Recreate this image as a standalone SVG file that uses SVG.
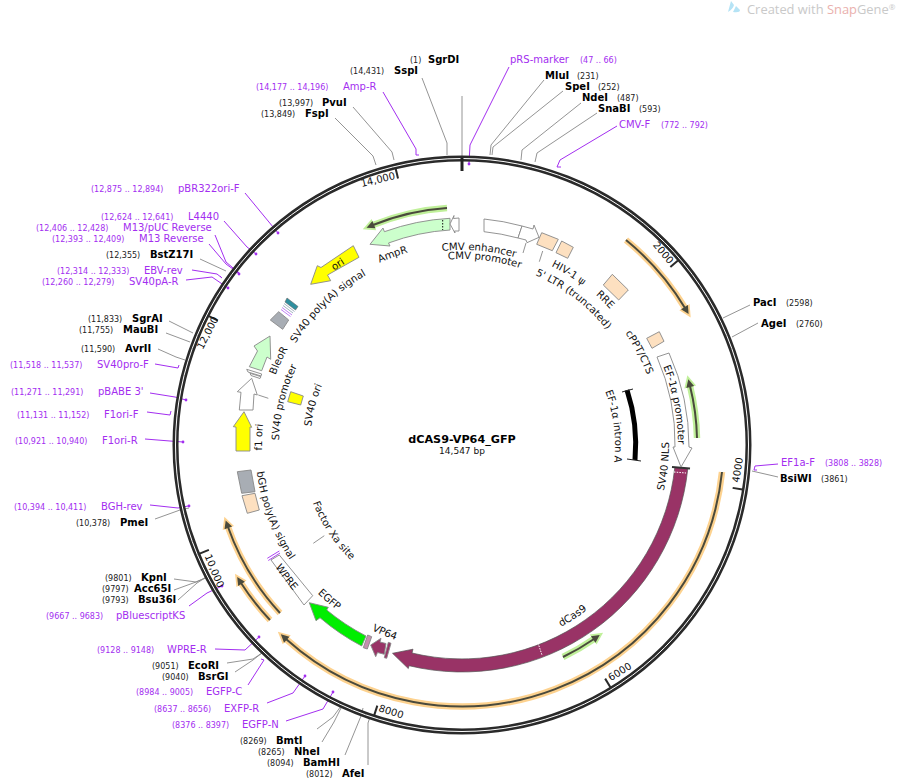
<svg xmlns="http://www.w3.org/2000/svg" width="898" height="780" viewBox="0 0 898 780">
<style>
text{font-family:"DejaVu Sans",sans-serif;fill:#111}
.l{font-size:10px}
.n{font-size:8px;fill:#222}
.b{font-size:10px;font-weight:bold;fill:#000}
.pn{font-size:10px;fill:#a32ef0}
.pp{font-size:8px;fill:#a32ef0}
.t{font-size:10px;text-anchor:middle}
.f{font-size:10.2px}
.g{fill:none;stroke:#888;stroke-width:.9}
.p{fill:none;stroke:#a32ef0;stroke-width:1}
.d{fill:#a32ef0}
.s{stroke:#888;stroke-width:.9;stroke-linejoin:miter}
.w{fill:#fff}
.pe{fill:#fde0c0}
.gr{fill:#a8adb4}
.y{fill:#ff0}
.lg{fill:#ccffcc}
.mg{fill:#993366}
.tick{stroke:#2a2a2a;stroke-width:2}
.og{fill:none;stroke:#fdd28f;stroke-width:6.5;marker-end:url(#mo)}
.gg{fill:none;stroke:#c0f09a;stroke-width:6.5;marker-end:url(#mg)}
.core{fill:none;stroke:#4a4a3c;stroke-width:2;marker-end:url(#mc)}
</style>
<defs>
<marker id="mo" markerUnits="userSpaceOnUse" markerWidth="18" markerHeight="18" refX="4" refY="9" orient="auto"><path d="M3 3L15 9L3 15Z" fill="#fdd28f"/></marker>
<marker id="mg" markerUnits="userSpaceOnUse" markerWidth="18" markerHeight="18" refX="4" refY="9" orient="auto"><path d="M3 3L15 9L3 15Z" fill="#c0f09a"/></marker>
<marker id="mc" markerUnits="userSpaceOnUse" markerWidth="12" markerHeight="12" refX="2" refY="6" orient="auto"><path d="M1 2L9 6L1 10Z" fill="#4a4a3c"/></marker>
<path id="c200" d="M262 445A200 200 0 0 1 662 445"/>
<path id="c195" d="M267 445A195 195 0 0 1 657 445"/>
<path id="c186" d="M276 445A186 186 0 0 1 648 445"/>
<path id="c185" d="M277 445A185 185 0 0 1 647 445"/>
<path id="c183" d="M279 445A183 183 0 0 1 645 445"/>
<path id="c201" d="M261 445A201 201 0 0 1 663 445"/>
<path id="c198" d="M264 445A198 198 0 0 1 660 445"/>
<path id="c216" d="M246 445A216 216 0 0 1 678 445"/>
<path id="c153" d="M309 445A153 153 0 0 1 615 445"/>
<path id="c152" d="M310 445A152 152 0 0 1 614 445"/>
<path id="c199" d="M263 445A199 199 0 0 1 661 445"/>
<path id="b206" d="M256 445A206 206 0 0 0 668 445"/>
<path id="b160" d="M302 445A160 160 0 0 0 622 445"/>
<path id="b223" d="M239 445A223 223 0 0 0 685 445"/>
<path id="b207" d="M255 445A207 207 0 0 0 669 445"/>
</defs>

<g id="watermark">
<path d="M731 1L728 12Q733 9 734 5ZM736 6L733 12Q740 13 740 10Z" fill="#b5e3f5"/>
<text x="747" y="14" style="font-family:'Open Sans',sans-serif;font-size:12.9px;fill:#c9c9c9">Created with <tspan style="fill:#eab0ad">Snap</tspan>Gene<tspan style="font-size:8px" dy="-4">®</tspan></text>
</g>

<g id="connectors">
<polyline class="g" points="462,96 462,157"/>
<polyline class="g" points="422,78 447,143 447,155"/>
<polyline class="g" points="353,107 392,152 394,160"/>
<polyline class="g" points="335,118 373,156 376,165"/>
<polyline class="g" points="544,80 491,145 490,155"/>
<polyline class="g" points="563,91 493,147 492,155"/>
<polyline class="g" points="581,103 522,150 521,160"/>
<polyline class="g" points="597,113 537,153 535,162"/>
<polyline class="g" points="750,305 723,318"/>
<polyline class="g" points="758,323 732,337"/>
<polyline class="g" points="778,477 752,471"/>
<polyline class="g" points="200,259 226,271"/>
<polyline class="g" points="169,321 193,333"/>
<polyline class="g" points="166,333 190,342"/>
<polyline class="g" points="158,349 176,357 185,360"/>
<polyline class="g" points="155,519 180,510 189,508"/>
<polyline class="g" points="174,579 196,582 205,578"/>
<polyline class="g" points="174,590 196,582 205,578"/>
<polyline class="g" points="178,600 197,583 205,578"/>
<polyline class="g" points="227,663 253,659 262,653"/>
<polyline class="g" points="235,672 253,660 262,653"/>
<polyline class="g" points="317,729 333,717 341,706"/>
<polyline class="g" points="322,742 334,722 341,708"/>
<polyline class="g" points="345,755 361,716 363,708"/>
<polyline class="g" points="368,765 368,723 371,714"/>
<polyline class="p" points="509,67 470,145 469,163"/><circle class="d" cx="469" cy="164" r="1.4"/>
<polyline class="p" points="383,92 416,149 416,155 419,155"/>
<polyline class="p" points="617,126 560,160 557,167 561,167"/>
<polyline class="p" points="778,464 755,466 754,470 757,470"/>
<polyline class="p" points="245,193 278,233"/><circle class="d" cx="278" cy="233" r="1.4"/>
<polyline class="p" points="224,221 247,247 256,254"/><circle class="d" cx="256" cy="254" r="1.4"/>
<polyline class="p" points="215,235 226,262 239,273"/><circle class="d" cx="239" cy="274" r="1.4"/>
<polyline class="p" points="209,244 226,264 237,272"/><circle class="d" cx="237" cy="272" r="1.4"/>
<polyline class="p" points="192,270 217,274 222,278 220,276"/>
<polyline class="p" points="186,280 212,277 228,288"/><circle class="d" cx="228" cy="288" r="1.4"/>
<polyline class="p" points="155,364 178,368 179,365"/>
<polyline class="p" points="150,393 175,397 186,400"/><circle class="d" cx="186" cy="400" r="1.4"/>
<polyline class="p" points="147,412 170,415 171,411"/>
<polyline class="p" points="145,439 170,441 183,442"/><circle class="d" cx="183" cy="442" r="1.4"/>
<polyline class="p" points="150,505 178,508 188,506"/><circle class="d" cx="189" cy="506" r="1.4"/>
<polyline class="p" points="189,606 207,593 222,586"/><circle class="d" cx="222" cy="586" r="1.4"/>
<polyline class="p" points="215,649 245,650 259,637"/><circle class="d" cx="259" cy="637" r="1.4"/>
<polyline class="p" points="248,685 264,660 261,659"/>
<polyline class="p" points="267,703 293,693 305,676"/><circle class="d" cx="305" cy="676" r="1.4"/>
<polyline class="p" points="286,721 323,709 333,692"/><circle class="d" cx="333" cy="692" r="1.4"/>
<polyline class="g" points="526,243 523,253"/>
<polyline class="g" points="542.7,251 539.3,261.7"/>
<polyline class="g" points="258.3,395 268.3,398.3"/>
<polyline class="g" points="313.3,543.3 324.3,535.7"/>
</g>

<g id="backbone">
<circle cx="462" cy="445" r="286.5" fill="none" stroke="#2a2a2a" stroke-width="6"/>
<circle cx="462" cy="445" r="286.5" fill="none" stroke="#fff" stroke-width="1"/>
<line x1="462" y1="158" x2="462" y2="171" stroke="#222" stroke-width="3"/>
<line class="tick" x1="462" y1="161" x2="462" y2="171" transform="rotate(49.5 462 445)"/>
<line class="tick" x1="462" y1="161" x2="462" y2="171" transform="rotate(99 462 445)"/>
<line class="tick" x1="462" y1="161" x2="462" y2="171" transform="rotate(148.5 462 445)"/>
<line class="tick" x1="462" y1="161" x2="462" y2="171" transform="rotate(198 462 445)"/>
<line class="tick" x1="462" y1="161" x2="462" y2="171" transform="rotate(247.5 462 445)"/>
<line class="tick" x1="462" y1="161" x2="462" y2="171" transform="rotate(297 462 445)"/>
<line class="tick" x1="462" y1="161" x2="462" y2="171" transform="rotate(346.5 462 445)"/>
<text class="t" transform="translate(663 253) rotate(49.5)" y="3">2000</text>
<text class="t" transform="translate(738 470) rotate(-81)" y="3">4000</text>
<text class="t" transform="translate(620 672) rotate(-31.5)" y="3">6000</text>
<text class="t" transform="translate(391 712) rotate(18)" y="3">8000</text>
<text class="t" transform="translate(214 571) rotate(67.5)" y="3">10,000</text>
<text class="t" transform="translate(208 333) rotate(-63)" y="3">12,000</text>
<text class="t" transform="translate(378 180) rotate(-13.5)" y="3">14,000</text>
</g>

<g id="title">
<text x="462" y="443" text-anchor="middle" style="font-size:11.2px;font-weight:bold;fill:#000">dCAS9-VP64_GFP</text>
<text x="462" y="454" text-anchor="middle" style="font-size:9px">14,547 bp</text>
</g>

<g id="primers">
<path class="og" d="M626 240A263 263 0 0 1 685 308"/><path class="core" d="M626 240A263 263 0 0 1 685 308"/>
<path class="og" d="M722 472A262 262 0 0 1 286 639"/><path class="core" d="M722 472A262 262 0 0 1 286 639"/>
<path class="og" d="M270 620A261 261 0 0 1 241 583"/><path class="core" d="M270 620A261 261 0 0 1 241 583"/>
<path class="og" d="M280 613A248 248 0 0 1 228 527"/><path class="core" d="M280 613A248 248 0 0 1 228 527"/>
<path class="gg" d="M447 208A238 238 0 0 0 373 225"/><path class="core" d="M447 208A238 238 0 0 0 373 225"/>
<path class="gg" d="M697 438A235.5 235.5 0 0 0 690 386"/><path class="core" d="M697 438A235.5 235.5 0 0 0 690 386"/>
<path class="gg" d="M563 657A235 235 0 0 0 594 639"/><path class="core" d="M563 657A235 235 0 0 0 594 639"/>
</g>

<g id="AmpR"><path class="s lg" d="M450 218.3A227 227 0 0 0 384.4 231.7L383 228L370 244.3L390 246L388.5 243A215 215 0 0 1 450 230Z"/>
<line x1="442.7" y1="220" x2="442.7" y2="230" stroke="#111" stroke-dasharray="1.5 1.5"/>
<text class="f" transform="rotate(-20 462 445)"><textPath href="#c200" startOffset="50%" text-anchor="middle">AmpR</textPath></text></g>
<g id="small-white"><path class="s w" d="M450 224L454 215.5L453.5 218.5L459 218V231L454.5 231L455 233Z"/></g>
<g id="CMV-enhancer"><path class="s w" d="M484 219A227 227 0 0 1 522 226L518 238A215 215 0 0 0 484 231.7Z"/>
<text class="f" transform="rotate(5 462 445)"><textPath href="#c195" startOffset="50%" text-anchor="middle">CMV enhancer</textPath></text></g>
<g id="CMV-promoter"><path class="s w" d="M522 226L533 229L534 225L539 237.3L527 242.7L526 240L518 238Z"/>
<text class="f" transform="rotate(7 462 445)"><textPath href="#c186" startOffset="50%" text-anchor="middle">CMV promoter</textPath></text></g>
<g id="LTR"><path class="s pe" d="M541.7 232.7L558.3 239.3L552.3 250.7L536.7 244.3Z"/>
<text class="f" transform="rotate(37.4 462 445)"><textPath href="#c185" startOffset="50%" text-anchor="middle">5' LTR (truncated)</textPath></text></g>
<g id="HIV-psi"><path class="s pe" d="M561.7 241L573.3 247.3L567.7 258.3L556 252.7Z"/>
<text class="f" transform="rotate(31.8 462 445)"><textPath href="#c200" startOffset="50%" text-anchor="middle">HIV-1 ψ</textPath></text></g>
<g id="RRE"><path class="s pe" d="M612.3 274.3L628.3 290L618.7 300L603.3 285Z"/>
<text class="f" transform="rotate(44.6 462 445)"><textPath href="#c201" startOffset="50%" text-anchor="middle">RRE</textPath></text></g>
<g id="cPPT"><path class="s pe" d="M659.3 331.7L664 341.3L652 348.3L646.7 338.3Z"/>
<text class="f" transform="rotate(62.4 462 445)"><textPath href="#c198" startOffset="50%" text-anchor="middle">cPPT/CTS</textPath></text></g>
<g id="dCas9"><path class="mg" stroke="#555" stroke-width=".7" d="M687.8 468.7A227 227 0 0 1 409 665.7L408.3 668.6L392.5 653.3L413 649.2L412 653A214 214 0 0 0 674.8 467.4Z"/>
<line x1="672" y1="467" x2="690" y2="468.6" stroke="#333" stroke-width="2"/>
<line x1="674" y1="472" x2="686" y2="473" stroke="#fff" stroke-dasharray="1.5 1.2"/>
<line x1="538" y1="643" x2="542" y2="655" stroke="#fff" stroke-dasharray="1.5 1.2"/>
<text class="f" transform="rotate(-32.9 462 445)"><textPath href="#b207" startOffset="50%" text-anchor="middle">dCas9</textPath></text></g>
<g id="SV40-NLS"><text class="f" transform="rotate(-84 462 445)"><textPath href="#b207" startOffset="50%" text-anchor="middle">SV40 NLS</textPath></text></g>
<g id="EF1a-promoter"><path class="s w" d="M657 357A214 214 0 0 1 675 447L673 447L681 467L692 448L689 447A227 227 0 0 0 669 353Z"/>
<text class="f" transform="rotate(79.3 462 445)"><textPath href="#c216" startOffset="50%" text-anchor="middle">EF-1α promoter</textPath></text></g>
<g id="EF1a-intron"><path d="M627 390A174 174 0 0 1 635 460" fill="none" stroke="#000" stroke-width="5"/>
<path d="M622 392L633 389M627 459L641 461" stroke="#222" stroke-width="1"/>
<text class="f" transform="rotate(83 462 445)"><textPath href="#c153" startOffset="50%" text-anchor="middle">EF-1α intron A</textPath></text></g>
<g id="ori"><path class="s y" d="M353.3 245.7L359 257.3L327.5 275L330.7 280.7L310.7 284.3L317.3 265.7L321 267.5Z"/>
<text class="f" transform="rotate(-34.5 462 445)"><textPath href="#c216" startOffset="50%" text-anchor="middle">ori</textPath></text></g>
<g id="SV40-polyA"><path d="M287 298L298 306.5L295.5 310L285 302Z" fill="#2f8f9f" stroke="#666" stroke-width=".6"/>
<path d="M284 303.5L294.5 311.5M283 305.5L293 313" stroke="#8aa0b0" stroke-width=".8" fill="none"/>
<path d="M282 307.5L292 315M281 309.5L290.5 316.5" stroke="#b060f0" stroke-width=".8" fill="none"/>
<path class="s gr" d="M278.7 311.7L288.7 320L282.7 329.3L270.3 320Z"/>
<text class="f" transform="rotate(-44 462 445)"><textPath href="#c195" startOffset="50%" text-anchor="middle">SV40 poly(A) signal</textPath></text></g>
<g id="BleoR"><path class="s lg" d="M249.3 366.7L257.5 351L254 346L270 336L270.7 359.3L267 357L261.7 370.7Z"/>
<path class="s w" d="M246.7 369.3L261.7 374L261 376L248 372Z"/>
<path class="s w" d="M250 373.3L261 376.7L260 378.5L251 375.5Z"/>
<text class="f" transform="rotate(-65.3 462 445)"><textPath href="#c199" startOffset="50%" text-anchor="middle">BleoR</textPath></text></g>
<g id="SV40-promoter"><path class="s w" d="M239.3 410L241 392.3L237.3 391.7L251.7 378.3L257.3 395L254 394L253 410Z"/>
<text class="f" transform="rotate(-76.5 462 445)"><textPath href="#c183" startOffset="50%" text-anchor="middle">SV40 promoter</textPath></text></g>
<g id="SV40-ori"><path class="s y" d="M290.7 391.7L303.3 396L300.7 405L287.7 401.7Z"/>
<text class="f" transform="rotate(-75 462 445)"><textPath href="#c152" startOffset="50%" text-anchor="middle">SV40 ori</textPath></text></g>
<g id="f1-ori"><path class="s y" d="M236 451L236 427L233.3 426.7L244 411.7L251.7 427.3L250 427L250 451Z"/>
<text class="f" transform="rotate(-87.8 462 445)"><textPath href="#c200" startOffset="50%" text-anchor="middle">f1 ori</textPath></text></g>
<g id="bGH-polyA"><path class="s gr" d="M237.3 471.7L251 470L255 491.7L241.7 493.3Z"/>
<path class="s pe" d="M242 495.7L255 493.3L259.3 510L247.3 513.3Z"/>
<text class="f" transform="rotate(69.4 462 445)"><textPath href="#b207" startOffset="50%" text-anchor="middle">bGH poly(A) signal</textPath></text></g>
<g id="Factor-Xa"><text class="f" transform="rotate(56.4 462 445)"><textPath href="#b160" startOffset="50%" text-anchor="middle">Factor Xa site</textPath></text></g>
<g id="WPRE"><path class="s w" d="M271 560L279.3 555L312.7 595.7L304 605Z"/>
<path d="M267.3 558.3L279.3 551M268.3 560.5L280 553" stroke="#a32ef0" stroke-width=".9" fill="none"/>
<text class="f" transform="rotate(53 462 445)"><textPath href="#b223" startOffset="50%" text-anchor="middle">WPRE</textPath></text></g>
<g id="EGFP"><path class="s" fill="#00ee00" d="M309.3 602.7L328.3 607.3L326.7 610A213.5 213.5 0 0 0 366 636L361.7 646A224 224 0 0 1 320 617.7L316 620.7Z"/>
<text class="f" transform="rotate(40.6 462 445)"><textPath href="#b207" startOffset="50%" text-anchor="middle">EGFP</textPath></text></g>
<g id="linker"><path class="s" fill="#c58fae" d="M367.7 635L371.7 636.7L367.3 649L363.3 647.7Z"/></g>
<g id="VP64"><path class="s mg" d="M370.7 645L381 638.3L380 642L386 643.5L384.3 654.3L377.5 652.5L375.7 656.7Z"/>
<path class="s mg" d="M388.3 642.3L391 643.3L386.7 658.3L384.3 657.7Z"/>
<text class="f" transform="rotate(22.4 462 445)"><textPath href="#b206" startOffset="50%" text-anchor="middle">VP64</textPath></text></g>

<g id="labels-top">
<text class="n" x="410" y="63">(1)</text><text class="b" x="428" y="63">SgrDI</text>
<text class="n" x="350" y="74">(14,431)</text><text class="b" x="394" y="74">SspI</text>
<text class="pp" x="256" y="90">(14,177 .. 14,196)</text><text class="pn" x="343" y="90">Amp-R</text>
<text class="n" x="279" y="106">(13,997)</text><text class="b" x="322" y="106">PvuI</text>
<text class="n" x="261" y="117">(13,849)</text><text class="b" x="305" y="117">FspI</text>
<text class="pn" x="510" y="63">pRS-marker</text><text class="pp" x="580" y="63">(47 .. 66)</text>
<text class="b" x="545" y="79">MluI</text><text class="n" x="577" y="79">(231)</text>
<text class="b" x="565" y="90">SpeI</text><text class="n" x="598" y="90">(252)</text>
<text class="b" x="582" y="101">NdeI</text><text class="n" x="617" y="101">(487)</text>
<text class="b" x="598" y="112">SnaBI</text><text class="n" x="639" y="112">(593)</text>
<text class="pn" x="619" y="128">CMV-F</text><text class="pp" x="661" y="128">(772 .. 792)</text>
</g>
<g id="labels-right">
<text class="b" x="753" y="306">PacI</text><text class="n" x="786" y="306">(2598)</text>
<text class="b" x="761" y="327">AgeI</text><text class="n" x="796" y="327">(2760)</text>
<text class="pn" x="781" y="466">EF1a-F</text><text class="pp" x="825" y="466">(3808 .. 3828)</text>
<text class="b" x="780" y="482">BsiWI</text><text class="n" x="821" y="482">(3861)</text>
</g>
<g id="labels-left">
<text class="pp" x="91" y="192">(12,875 .. 12,894)</text><text class="pn" x="178" y="192">pBR322ori-F</text>
<text class="pp" x="101" y="220">(12,624 .. 12,641)</text><text class="pn" x="188" y="220">L4440</text>
<text class="pp" x="36" y="231">(12,406 .. 12,428)</text><text class="pn" x="123" y="231">M13/pUC Reverse</text>
<text class="pp" x="52" y="242">(12,393 .. 12,409)</text><text class="pn" x="139" y="242">M13 Reverse</text>
<text class="n" x="106" y="258">(12,355)</text><text class="b" x="150" y="258">BstZ17I</text>
<text class="pp" x="57" y="274">(12,314 .. 12,333)</text><text class="pn" x="144" y="274">EBV-rev</text>
<text class="pp" x="42" y="285">(12,260 .. 12,279)</text><text class="pn" x="129" y="285">SV40pA-R</text>
<text class="n" x="88" y="322">(11,833)</text><text class="b" x="132" y="322">SgrAI</text>
<text class="n" x="79" y="333">(11,755)</text><text class="b" x="123" y="333">MauBI</text>
<text class="n" x="81" y="352">(11,590)</text><text class="b" x="125" y="352">AvrII</text>
<text class="pp" x="10" y="368">(11,518 .. 11,537)</text><text class="pn" x="97" y="368">SV40pro-F</text>
<text class="pp" x="11" y="395">(11,271 .. 11,291)</text><text class="pn" x="98" y="395">pBABE 3'</text>
<text class="pp" x="17" y="418">(11,131 .. 11,152)</text><text class="pn" x="104" y="418">F1ori-F</text>
<text class="pp" x="15" y="444">(10,921 .. 10,940)</text><text class="pn" x="102" y="444">F1ori-R</text>
<text class="pp" x="14" y="510">(10,394 .. 10,411)</text><text class="pn" x="101" y="510">BGH-rev</text>
<text class="n" x="76" y="526">(10,378)</text><text class="b" x="120" y="526">PmeI</text>
</g>
<g id="labels-bottom">
<text class="n" x="105" y="581">(9801)</text><text class="b" x="141" y="581">KpnI</text>
<text class="n" x="102" y="592">(9797)</text><text class="b" x="134" y="592">Acc65I</text>
<text class="n" x="102" y="603">(9793)</text><text class="b" x="138" y="603">Bsu36I</text>
<text class="pp" x="46" y="619">(9667 .. 9683)</text><text class="pn" x="116" y="619">pBluescriptKS</text>
<text class="pp" x="97" y="653">(9128 .. 9148)</text><text class="pn" x="167" y="653">WPRE-R</text>
<text class="n" x="152" y="669">(9051)</text><text class="b" x="188" y="669">EcoRI</text>
<text class="n" x="162" y="680">(9040)</text><text class="b" x="198" y="680">BsrGI</text>
<text class="pp" x="136" y="695">(8984 .. 9005)</text><text class="pn" x="206" y="695">EGFP-C</text>
<text class="pp" x="154" y="712">(8637 .. 8656)</text><text class="pn" x="224" y="712">EXFP-R</text>
<text class="pp" x="172" y="728">(8376 .. 8397)</text><text class="pn" x="242" y="728">EGFP-N</text>
<text class="n" x="240" y="744">(8269)</text><text class="b" x="276" y="744">BmtI</text>
<text class="n" x="258" y="755">(8265)</text><text class="b" x="294" y="755">NheI</text>
<text class="n" x="267" y="766">(8094)</text><text class="b" x="303" y="766">BamHI</text>
<text class="n" x="306" y="777">(8012)</text><text class="b" x="342" y="777">AfeI</text>
</g>
</svg>
